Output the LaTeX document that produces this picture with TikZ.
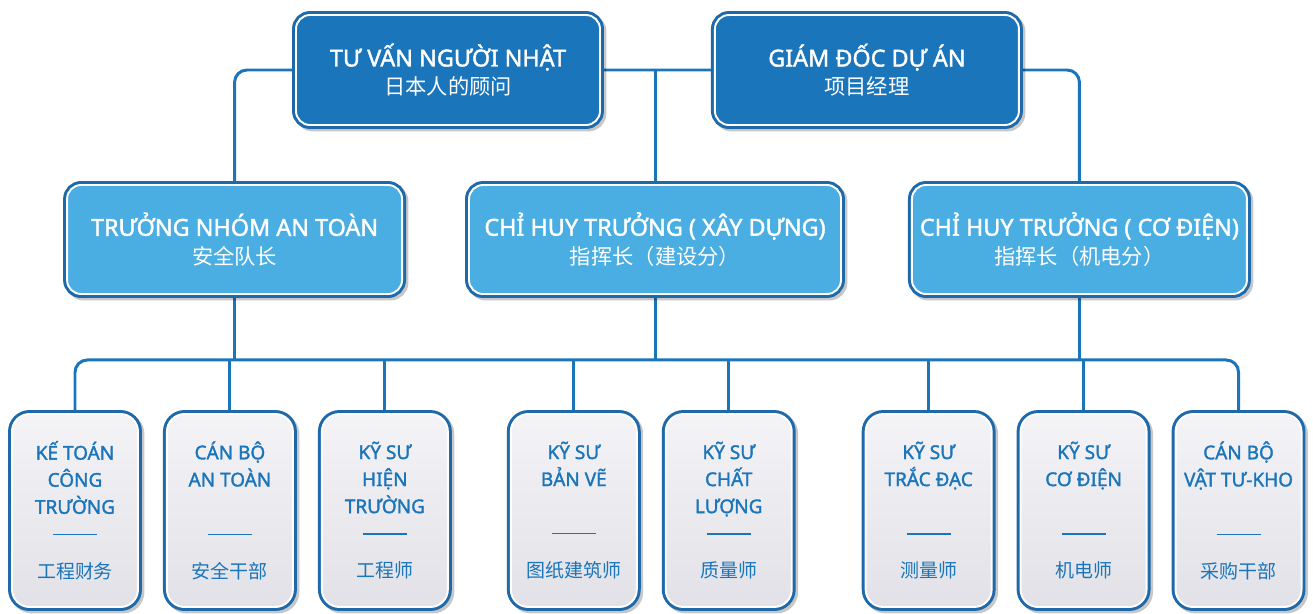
\documentclass[tikz,border=0pt]{standalone}
\usepackage{fontspec}
\setmainfont{Noto Sans}[BoldFont={Noto Sans}, BoldFeatures={FakeBold=1.6}]
\newfontfamily\cjk{Noto Sans CJK SC}
\usetikzlibrary{positioning, shadows, backgrounds}
\definecolor{mdeep}{HTML}{1B75BB}
\definecolor{mframe}{HTML}{1D69AA}
\definecolor{msky}{HTML}{4BAEE3}
\definecolor{mpaletop}{HTML}{F4F4F7}
\definecolor{mpalebot}{HTML}{E1E1E7}
\newcommand{\splitbar}{\rule[0.3em]{0.88cm}{0.7pt}}
\newcommand{\cnline}{\mdseries\fontsize{12.1}{16}\selectfont\cjk}
\tikzstyle{card} = [rectangle, rounded corners=8pt, draw=white, line width=1.1pt, text=white, align=center, inner sep=2pt, drop shadow={shadow xshift=1.4pt, shadow yshift=-1.4pt, fill=black, draw=black, line width=4.5pt, opacity=0.22}, preaction={draw=mframe, line width=4.5pt}]
\tikzstyle{lead} = [card, fill=mdeep, minimum width=6.08cm, minimum height=2.2cm, font=\fontsize{13.3}{16}\selectfont]
\tikzstyle{chief} = [card, fill=msky, minimum height=2.18cm, font=\fontsize{13.3}{16.5}\selectfont]
\tikzstyle{staff} = [card, rounded corners=10pt, top color=mpaletop, bottom color=mpalebot, text=mdeep, minimum width=2.52cm, minimum height=3.86cm, font=\fontsize{10.8}{15.4}\selectfont\bfseries]
\tikzstyle{wire} = [mdeep, line width=1.7pt, rounded corners=7pt]

\begin{document}
\begin{tikzpicture}
  \useasboundingbox (0,0) rectangle (26.26,-12.26);
  % top level
  \node (advisor) [lead] at (8.96,-1.40) {\bfseries TƯ VẤN NGƯỜI NHẬT\\\cnline 日本人的顾问};
  \node (director) [lead, right=2.26cm of advisor] {\bfseries GIÁM ĐỐC DỰ ÁN\\\cnline 项目经理};
  % site chiefs
  \node (build) [chief, minimum width=7.44cm] at (13.1,-4.79) {\bfseries CHỈ HUY TRƯỞNG ( XÂY DỰNG)\\\cnline 指挥长（建设分）};
  \node (safety) [chief, minimum width=6.7cm, left=1.3cm of build] {\bfseries TRƯỞNG NHÓM AN TOÀN\\\cnline 安全队长};
  \node (mep) [chief, minimum width=6.7cm, right=1.38cm of build] {\bfseries CHỈ HUY TRƯỞNG ( CƠ ĐIỆN)\\\cnline 指挥长（机电分）};
  % staff
  \node (b1) [staff] at (1.5,-10.21) {KẾ TOÁN\\CÔNG\\TRƯỜNG\\\splitbar\\[6pt]\mdseries\cjk 工程财务};
  \node (b2) [staff, right=0.54cm of b1] {CÁN BỘ\\AN TOÀN\\\mbox{}\\\splitbar\\[6pt]\mdseries\cjk 安全干部};
  \node (b3) [staff, right=0.54cm of b2] {KỸ SƯ\\HIỆN\\TRƯỜNG\\\splitbar\\[6pt]\mdseries\cjk 工程师};
  \node (b4) [staff, right=1.22cm of b3] {KỸ SƯ\\BẢN VẼ\\\mbox{}\\\splitbar\\[6pt]\mdseries\cjk 图纸建筑师};
  \node (b5) [staff, right=0.54cm of b4] {KỸ SƯ\\CHẤT\\LƯỢNG\\\splitbar\\[6pt]\mdseries\cjk 质量师};
  \node (b6) [staff, right=1.44cm of b5] {KỸ SƯ\\TRẮC ĐẠC\\\mbox{}\\\splitbar\\[6pt]\mdseries\cjk 测量师};
  \node (b7) [staff, right=0.54cm of b6] {KỸ SƯ\\CƠ ĐIỆN\\\mbox{}\\\splitbar\\[6pt]\mdseries\cjk 机电师};
  \node (b8) [staff, right=0.54cm of b7] {CÁN BỘ\\VẬT TƯ-KHO\\\mbox{}\\\splitbar\\[6pt]\mdseries\cjk 采购干部};
  \coordinate [below=1.3cm of build.south] (bus);
  % connectors
  \begin{scope}[on background layer]
    \draw [wire] (safety.north) |- (advisor.center) -- (director.center) -| (mep.north);
    \draw [wire] (build.north) -- (build.north |- advisor.center);
    \draw [wire] (safety.south) -- (safety.south |- bus);
    \draw [wire] (build.south) -- (bus);
    \draw [wire] (mep.south) -- (mep.south |- bus);
    \draw [wire] (b1.north) |- (bus) -| (b8.north);
    \draw [wire] (b2.north) -- (b2.north |- bus);
    \draw [wire] (b3.north) -- (b3.north |- bus);
    \draw [wire] (b4.north) -- (b4.north |- bus);
    \draw [wire] (b5.north) -- (b5.north |- bus);
    \draw [wire] (b6.north) -- (b6.north |- bus);
    \draw [wire] (b7.north) -- (b7.north |- bus);
  \end{scope}
\end{tikzpicture}
\end{document}
